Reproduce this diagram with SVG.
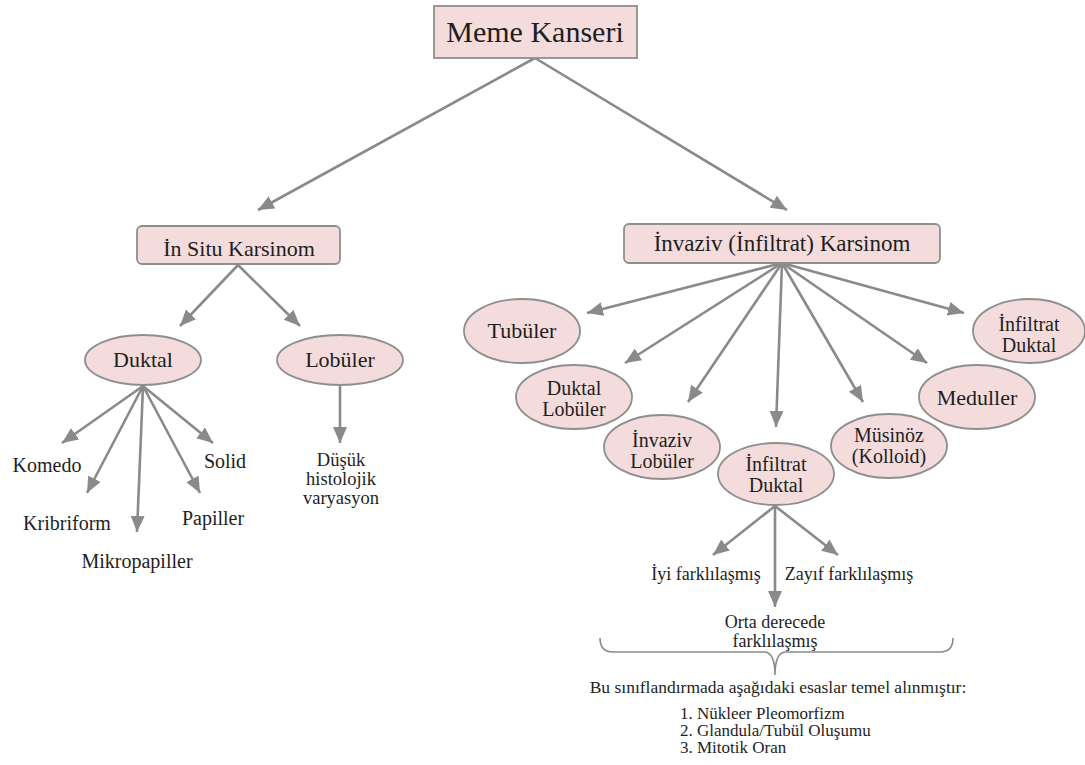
<svg xmlns="http://www.w3.org/2000/svg" width="1085" height="765" viewBox="0 0 1085 765">
<style>
  .node { fill: #f4dcdc; stroke: #8e8e8e; stroke-width: 1.8; }
  text { font-family: "Liberation Serif", "Times New Roman", serif; fill: #1e1e1e; text-anchor: middle; }
  .t30 { font-size: 30px; }
  .t23 { font-size: 23px; }
  .t22 { font-size: 22px; }
  .t20 { font-size: 20px; }
  .t18 { font-size: 18px; }
  .t185 { font-size: 18.5px; }
  .t17 { font-size: 17.5px; }
  .t16 { font-size: 17px; }
  .conn line { stroke: #8a8a8a; stroke-width: 2.6; marker-end: url(#arrow); }
  .brace { fill: none; stroke: #8a8a8a; stroke-width: 1.6; }
</style>
<defs>
  <marker id="arrow" markerUnits="userSpaceOnUse" markerWidth="18" markerHeight="16" refX="16" refY="7" orient="auto">
    <path d="M0,0 L16,7 L0,14 Z" fill="#8a8a8a"/>
  </marker>
</defs>
<rect width="1085" height="765" fill="#ffffff"/>

<g class="conn" id="connectors">
  <line x1="535" y1="58" x2="258" y2="210"/>
  <line x1="535" y1="58" x2="787" y2="210"/>
  <line x1="238" y1="265" x2="180" y2="326"/>
  <line x1="238" y1="265" x2="300" y2="326"/>
  <line x1="143" y1="386" x2="62" y2="443"/>
  <line x1="143" y1="386" x2="87" y2="493"/>
  <line x1="143" y1="386" x2="137" y2="532"/>
  <line x1="143" y1="386" x2="200" y2="493"/>
  <line x1="143" y1="386" x2="213" y2="443"/>
  <line x1="340" y1="386" x2="340" y2="443"/>
  <line x1="782" y1="263" x2="587" y2="313"/>
  <line x1="782" y1="263" x2="625" y2="363"/>
  <line x1="782" y1="263" x2="688" y2="402"/>
  <line x1="782" y1="263" x2="776" y2="427"/>
  <line x1="782" y1="263" x2="863" y2="402"/>
  <line x1="782" y1="263" x2="927" y2="363"/>
  <line x1="782" y1="263" x2="964" y2="313"/>
  <line x1="775" y1="506" x2="713" y2="555"/>
  <line x1="775" y1="506" x2="775" y2="607"/>
  <line x1="775" y1="506" x2="838" y2="555"/>
</g>

<g id="meme-kanseri">
  <rect class="node" x="434" y="6" width="203" height="52"/>
  <text class="t30" x="535" y="42">Meme Kanseri</text>
</g>
<g id="in-situ">
  <rect class="node" x="137" y="226" width="203" height="38" rx="5"/>
  <text class="t22" x="239" y="256">İn Situ Karsinom</text>
</g>
<g id="invaziv">
  <rect class="node" x="624" y="224" width="316" height="39" rx="5"/>
  <text class="t23" x="782" y="251">İnvaziv (İnfiltrat) Karsinom</text>
</g>

<g id="duktal">
  <ellipse class="node" cx="143" cy="360" rx="58" ry="25"/>
  <text class="t22" x="143" y="367">Duktal</text>
</g>
<g id="lobuler">
  <ellipse class="node" cx="340" cy="360" rx="63" ry="25"/>
  <text class="t22" x="340" y="367">Lobüler</text>
</g>

<g id="duktal-labels">
  <text class="t20" x="47" y="472">Komedo</text>
  <text class="t20" x="67" y="530">Kribriform</text>
  <text class="t20" x="137" y="568">Mikropapiller</text>
  <text class="t20" x="213" y="525">Papiller</text>
  <text class="t20" x="225" y="468">Solid</text>
</g>
<g id="lobuler-label">
  <text class="t185" x="341" y="466">Düşük</text>
  <text class="t185" x="341" y="485">histolojik</text>
  <text class="t185" x="341" y="504">varyasyon</text>
</g>

<g id="tubuler">
  <ellipse class="node" cx="522" cy="331" rx="58" ry="32"/>
  <text class="t22" x="522" y="338">Tubüler</text>
</g>
<g id="duktal-lobuler">
  <ellipse class="node" cx="574" cy="397" rx="58" ry="32"/>
  <text class="t20" x="574" y="395">Duktal</text>
  <text class="t20" x="574" y="416">Lobüler</text>
</g>
<g id="invaziv-lobuler">
  <ellipse class="node" cx="662" cy="447" rx="58" ry="32"/>
  <text class="t20" x="662" y="447">İnvaziv</text>
  <text class="t20" x="662" y="468">Lobüler</text>
</g>
<g id="infiltrat-duktal-center">
  <ellipse class="node" cx="776" cy="474" rx="58" ry="31"/>
  <text class="t20" x="776" y="471">İnfiltrat</text>
  <text class="t20" x="776" y="492">Duktal</text>
</g>
<g id="musinoz">
  <ellipse class="node" cx="889" cy="446" rx="58" ry="32"/>
  <text class="t20" x="889" y="442">Müsinöz</text>
  <text class="t20" x="889" y="463">(Kolloid)</text>
</g>
<g id="meduller">
  <ellipse class="node" cx="977" cy="397" rx="58" ry="32"/>
  <text class="t22" x="977" y="405">Meduller</text>
</g>
<g id="infiltrat-duktal-right">
  <ellipse class="node" cx="1029" cy="331" rx="56" ry="32"/>
  <text class="t20" x="1029" y="331">İnfiltrat</text>
  <text class="t20" x="1029" y="352">Duktal</text>
</g>

<g id="grades">
  <text class="t18" x="706" y="580">İyi farklılaşmış</text>
  <text class="t18" x="849" y="580">Zayıf farklılaşmış</text>
  <text class="t18" x="775" y="628">Orta derecede</text>
  <text class="t18" x="775" y="647">farklılaşmış</text>
</g>

<g id="brace">
  <path class="brace" d="M600,638 Q600,652 613,652 L764,652 Q775,652 775,675 Q775,652 786,652 L940,652 Q953,652 953,638"/>
</g>

<g id="notes">
  <text class="t17" x="778" y="693">Bu sınıflandırmada aşağıdaki esaslar temel alınmıştır:</text>
  <text class="t16" x="680" y="719" style="text-anchor:start">1. Nükleer Pleomorfizm</text>
  <text class="t16" x="680" y="736" style="text-anchor:start">2. Glandula/Tubül Oluşumu</text>
  <text class="t16" x="680" y="753" style="text-anchor:start">3. Mitotik Oran</text>
</g>
</svg>
